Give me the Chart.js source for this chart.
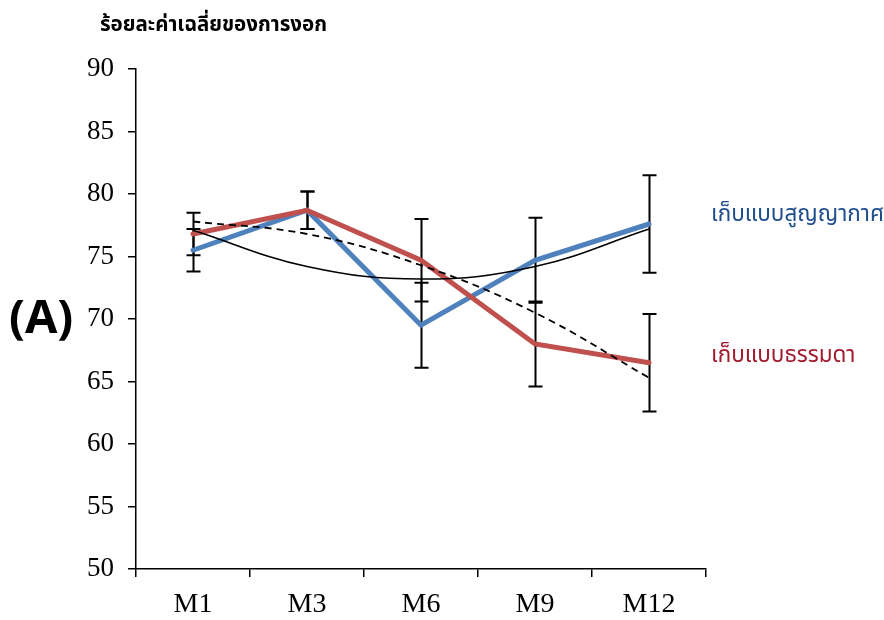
<!DOCTYPE html>
<html>
<head>
<meta charset="utf-8">
<script src="https://cdn.jsdelivr.net/npm/chart.js@4.4.1/dist/chart.umd.min.js"></script>
<style>
  html, body { margin: 0; padding: 0; background: #fff; }
  #wrap { width: 884px; height: 620px; position: relative; }
</style>
</head>
<body>
<div id="wrap"><canvas id="graphe" width="884" height="620"></canvas></div>
<script>
// Données
var categories = ['M1', 'M3', 'M6', 'M9', 'M12'];
var vacuumValues = [75.5, 78.7, 69.5, 74.7, 77.6];   // เก็บแบบสูญญากาศ
var normalValues = [76.8, 78.7, 74.7, 68.0, 66.5];   // เก็บแบบธรรมดา
var vacuumErr = [1.7, 1.5, 3.4, 3.4, 3.9];
var normalErr = [1.7, 1.5, 3.3, 3.4, 3.9];
var vacuumTrend = [77.1, 74.2, 73.2, 74.2, 77.2];
var normalTrend = [77.8, 76.8, 74.3, 70.5, 65.3];
var yTicks = [50, 55, 60, 65, 70, 75, 80, 85, 90];

var thaiFont = '"Noto Sans Thai", "Noto Serif Thai", "Tahoma", "DejaVu Sans", sans-serif';
var serifFont = '"Liberation Serif", "Times New Roman", serif';

// Barres d'erreur, dessinées sous les lignes
var errorBars = {
    id: 'errorBars',
    beforeDatasetsDraw: function(chart) {
        var ctx = chart.ctx;
        var y = chart.scales.y;
        var x = chart.scales.x;
        var sets = [[vacuumValues, vacuumErr], [normalValues, normalErr]];
        ctx.save();
        ctx.strokeStyle = '#000';
        ctx.lineWidth = 2;
        sets.forEach(function(s) {
            s[0].forEach(function(v, i) {
                var px = Math.round(x.getPixelForValue(i)) + 0.5;
                var top = y.getPixelForValue(v + s[1][i]);
                var bot = y.getPixelForValue(v - s[1][i]);
                ctx.beginPath();
                ctx.moveTo(px, top); ctx.lineTo(px, bot);
                ctx.moveTo(px - 7, top); ctx.lineTo(px + 7, top);
                ctx.moveTo(px - 7, bot); ctx.lineTo(px + 7, bot);
                ctx.stroke();
            });
        });
        ctx.restore();
    }
};

// Textes autour du graphique
var labels = {
    id: 'labels',
    afterDraw: function(chart) {
        var ctx = chart.ctx;
        ctx.save();
        ctx.textBaseline = 'middle';
        ctx.textAlign = 'left';
        ctx.fillStyle = '#000';
        ctx.font = 'bold 20.5px ' + thaiFont;
        ctx.fillText('ร้อยละค่าเฉลี่ยของการงอก', 100, 27);
        ctx.font = 'bold 47px "Open Sans", "Liberation Sans", sans-serif';
        ctx.fillText('(A)', 9, 320);
        ctx.font = '22.5px ' + thaiFont;
        ctx.fillStyle = '#1F4E8C';
        ctx.fillText('เก็บแบบสูญญากาศ', 711, 216);
        ctx.fillStyle = '#A31A2E';
        ctx.fillText('เก็บแบบธรรมดา', 711, 357);
        ctx.restore();
    }
};

var config = {
    type: 'line',
    data: {
        labels: categories,
        datasets: [
            { label: 'trend vacuum', data: vacuumTrend, borderColor: '#000', borderWidth: 1.5,
              tension: 0.4, pointRadius: 0, fill: false, order: 0 },
            { label: 'trend normal', data: normalTrend, borderColor: '#000', borderWidth: 1.8,
              borderDash: [7, 5], tension: 0.4, pointRadius: 0, fill: false, order: 0 },
            { label: 'เก็บแบบธรรมดา', data: normalValues, borderColor: '#C0504D', borderWidth: 5,
              pointRadius: 0, tension: 0, fill: false, order: 1, borderCapStyle: 'round' },
            { label: 'เก็บแบบสูญญากาศ', data: vacuumValues, borderColor: '#4F81BD', borderWidth: 5,
              pointRadius: 0, tension: 0, fill: false, order: 2, borderCapStyle: 'round' }
        ]
    },
    options: {
        responsive: false,
        animation: false,
        layout: { padding: { left: 0, top: 69, right: 178, bottom: 0 } },
        plugins: { legend: { display: false }, tooltip: { enabled: false }, title: { display: false } },
        scales: {
            x: {
                offset: true,
                afterFit: function(s) { s.height = 51; },
                grid: { display: true, offset: true, drawOnChartArea: false, color: '#000', tickLength: 8, lineWidth: 1.5 },
                border: { display: true, color: '#000', width: 1.5 },
                ticks: { color: '#000', padding: 11, font: { family: serifFont, size: 28 } }
            },
            y: {
                min: 50, max: 90,
                afterFit: function(s) { s.width = 136; },
                afterBuildTicks: function(s) { s.ticks = yTicks.map(function(v) { return { value: v }; }); },
                grid: { display: true, drawOnChartArea: false, color: '#000', tickLength: 8, lineWidth: 1.5 },
                border: { display: true, color: '#000', width: 1.5 },
                ticks: { color: '#000', padding: 14, font: { family: serifFont, size: 27 } }
            }
        }
    },
    plugins: [errorBars, labels]
};

var ctx = document.getElementById('graphe').getContext('2d');
new Chart(ctx, config);
</script>
</body>
</html>
